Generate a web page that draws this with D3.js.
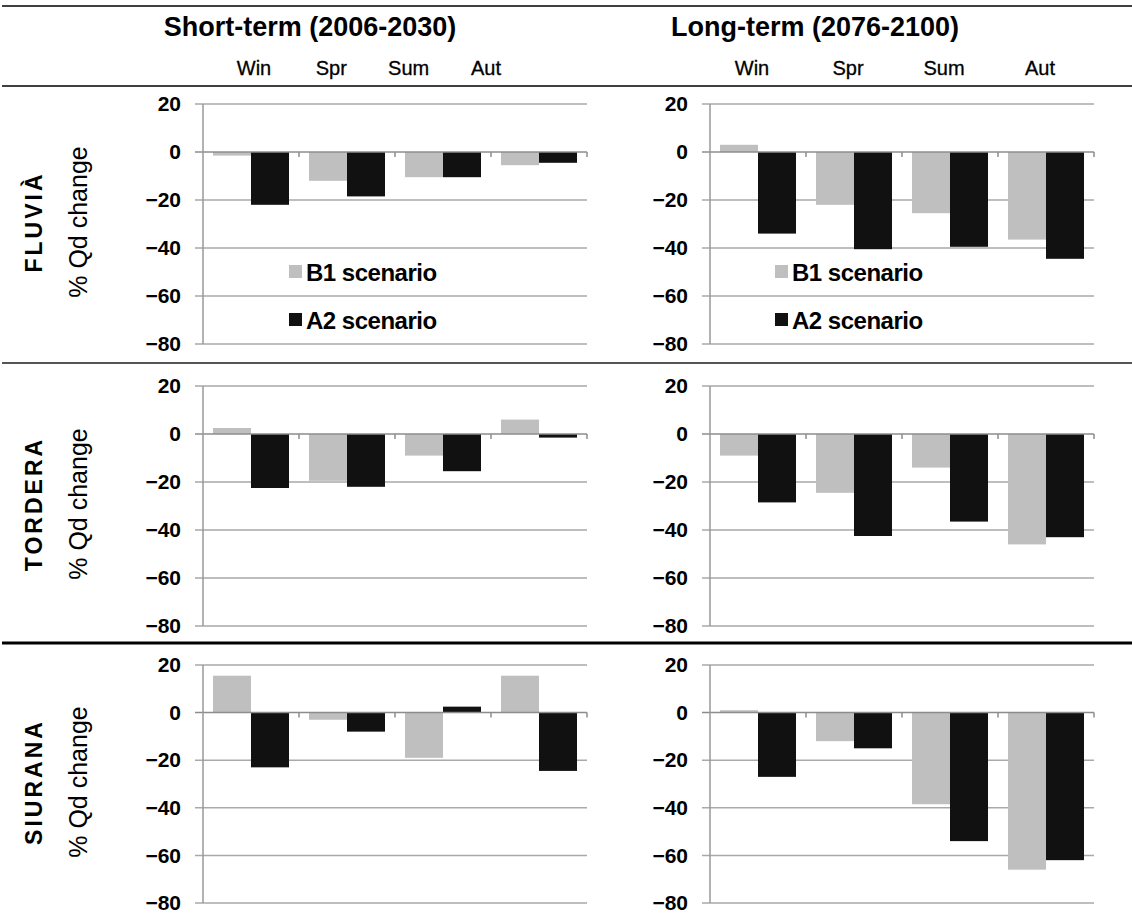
<!DOCTYPE html>
<html>
<head>
<meta charset="utf-8">
<script src="https://cdn.jsdelivr.net/npm/d3@7"></script>
<style>
  body { margin: 0; background: #fff; }
  svg { display: block; font-family: "Liberation Sans", Arial, sans-serif; }
</style>
</head>
<body>
<div id="main"></div>
<script>
// categories
const SEASONS = ["Win", "Spr", "Sum", "Aut"];
const PERIODS = ["Short-term (2006-2030)", "Long-term (2076-2100)"];
const RIVERS = ["FLUVIÀ", "TORDERA", "SIURANA"];
const SCENARIOS = ["B1 scenario", "A2 scenario"];
const Y_TICKS = [20, 0, -20, -40, -60, -80];
const Y_TITLE = "% Qd change";

// % Qd change, one value per season (Win, Spr, Sum, Aut)
const FLUVIA_SHORT_B1 = [-1.5, -12, -10.5, -5.5];
const FLUVIA_SHORT_A2 = [-22, -18.5, -10.5, -4.5];
const FLUVIA_LONG_B1 = [3, -22, -25.5, -36.5];
const FLUVIA_LONG_A2 = [-34, -40.5, -39.5, -44.5];
const TORDERA_SHORT_B1 = [2.5, -19.5, -9, 6];
const TORDERA_SHORT_A2 = [-22.5, -22, -15.5, -1.5];
const TORDERA_LONG_B1 = [-9, -24.5, -14, -46];
const TORDERA_LONG_A2 = [-28.5, -42.5, -36.5, -43];
const SIURANA_SHORT_B1 = [15.5, -3, -19, 15.5];
const SIURANA_SHORT_A2 = [-23, -8, 2.5, -24.5];
const SIURANA_LONG_B1 = [1, -12, -38.5, -66];
const SIURANA_LONG_A2 = [-27, -15, -54, -62];

// [river][period][scenario]
const SERIES = [
    [[FLUVIA_SHORT_B1, FLUVIA_SHORT_A2], [FLUVIA_LONG_B1, FLUVIA_LONG_A2]],
    [[TORDERA_SHORT_B1, TORDERA_SHORT_A2], [TORDERA_LONG_B1, TORDERA_LONG_A2]],
    [[SIURANA_SHORT_B1, SIURANA_SHORT_A2], [SIURANA_LONG_B1, SIURANA_LONG_A2]],
];

const ctx = {
    w: 1132,
    h: 919,
    colX: [[203, 587], [710, 1094]],
    rowY: [[104, 344], [386, 626], [665, 903]],
    titleX: [310, 815],
    seasonLabelRange: [[254, 486], [752, 1040]],
    legendOffset: [86, 65],
    barOuterPad: 0.263,
    colors: ["#bfbfbf", "#111111"],
    grid: "#a9a9a9",
    legendPanel: 0, // legend drawn in first river row
};

function drawHeader(svg) {
    svg.append("line")
        .attr("x1", 2).attr("x2", ctx.w).attr("y1", 6).attr("y2", 6)
        .attr("stroke", "#000").attr("stroke-width", 1.5);
    svg.append("line")
        .attr("x1", 2).attr("x2", ctx.w).attr("y1", 86).attr("y2", 86)
        .attr("stroke", "#000").attr("stroke-width", 1.5);
    PERIODS.forEach(function (p, c) {
        svg.append("text")
            .attr("x", ctx.titleX[c])
            .attr("y", 36)
            .attr("text-anchor", "middle")
            .attr("font-size", 27)
            .attr("font-weight", "bold")
            .text(p);
        let sx = d3.scalePoint().domain(SEASONS).range(ctx.seasonLabelRange[c]);
        svg.append("g").selectAll("text")
            .data(SEASONS)
            .enter()
            .append("text")
            .attr("x", (d) => sx(d))
            .attr("y", 75)
            .attr("text-anchor", "middle")
            .attr("font-size", 20)
            .attr("stroke", "#000")
            .attr("stroke-width", 0.3)
            .text((d) => d);
    });
    // separators between rivers
    svg.append("line")
        .attr("x1", 2).attr("x2", ctx.w).attr("y1", 363).attr("y2", 363)
        .attr("stroke", "#555").attr("stroke-width", 2);
    svg.append("line")
        .attr("x1", 2).attr("x2", ctx.w).attr("y1", 643).attr("y2", 643)
        .attr("stroke", "#000").attr("stroke-width", 3);
}

function drawRowLabels(svg, r) {
    let [yt, yb] = ctx.rowY[r];
    let cy = (yt + yb) / 2 - 2;
    svg.append("text")
        .attr("transform", `translate(42,${cy}) rotate(-90)`)
        .attr("text-anchor", "middle")
        .attr("font-size", 23)
        .attr("font-weight", "bold")
        .attr("letter-spacing", 3)
        .text(RIVERS[r]);
    svg.append("text")
        .attr("transform", `translate(87,${cy}) rotate(-90)`)
        .attr("text-anchor", "middle")
        .attr("font-size", 25)
        .text(Y_TITLE);
}

function drawPanel(svg, r, c) {
    let [x0, x1] = ctx.colX[c];
    let [yt, yb] = ctx.rowY[r];
    let y = d3.scaleLinear()
        .domain([d3.min(Y_TICKS), d3.max(Y_TICKS)])
        .range([yb, yt]);
    let x = d3.scaleBand().domain(SEASONS).range([x0, x1]);
    let xs = d3.scaleBand()
        .domain(SCENARIOS)
        .range([0, x.bandwidth()])
        .paddingOuter(ctx.barOuterPad);
    let g = svg.append("g").classed("panel", true);

    // gridlines
    g.selectAll("line.grid")
        .data(Y_TICKS.filter((d) => d !== 0))
        .enter()
        .append("line")
        .classed("grid", true)
        .attr("x1", x0 - 8).attr("x2", x1)
        .attr("y1", (d) => y(d)).attr("y2", (d) => y(d))
        .attr("stroke", ctx.grid)
        .attr("stroke-width", 1.5);

    // bars
    let data = [];
    SEASONS.forEach(function (s, i) {
        SCENARIOS.forEach(function (sc, k) {
            data.push({ season: s, scenario: sc, k: k, v: SERIES[r][c][k][i] });
        });
    });
    g.selectAll("rect.bar")
        .data(data)
        .enter()
        .append("rect")
        .classed("bar", true)
        .attr("x", (d) => x(d.season) + xs(d.scenario))
        .attr("width", xs.bandwidth())
        .attr("y", (d) => Math.min(y(d.v), y(0)))
        .attr("height", (d) => Math.abs(y(d.v) - y(0)))
        .attr("fill", (d) => ctx.colors[d.k]);

    // zero line + category ticks
    g.append("line")
        .attr("x1", x0 - 8).attr("x2", x1)
        .attr("y1", y(0)).attr("y2", y(0))
        .attr("stroke", "#8c8c8c").attr("stroke-width", 1.5);
    g.selectAll("line.ctick")
        .data(SEASONS)
        .enter()
        .append("line")
        .classed("ctick", true)
        .attr("x1", (d) => x(d) + x.bandwidth())
        .attr("x2", (d) => x(d) + x.bandwidth())
        .attr("y1", y(0)).attr("y2", y(0) + 5)
        .attr("stroke", "#8c8c8c").attr("stroke-width", 1.5);

    // vertical axis
    g.append("line")
        .attr("x1", x0).attr("x2", x0)
        .attr("y1", yt).attr("y2", yb)
        .attr("stroke", "#999").attr("stroke-width", 1.5);
    let axis = g.append("g")
        .attr("transform", `translate(${x0},0)`)
        .call(d3.axisLeft(y).tickValues(Y_TICKS).tickSize(0).tickPadding(22));
    axis.select(".domain").remove();
    axis.selectAll("text")
        .attr("font-family", "Liberation Sans, Arial, sans-serif")
        .attr("font-size", 21)
        .attr("font-weight", "bold")
        .attr("fill", "#000");

    // legend
    if (r === ctx.legendPanel) {
        let lx = x0 + ctx.legendOffset[c];
        let ly = d3.scalePoint().domain(SCENARIOS).range([y(-50), y(-70)]);
        let lg = g.append("g").attr("transform", `translate(${lx},0)`);
        lg.selectAll("rect")
            .data(SCENARIOS)
            .enter()
            .append("rect")
            .attr("x", 0)
            .attr("y", (d) => ly(d) - 7)
            .attr("width", 13)
            .attr("height", 13)
            .attr("fill", (d, i) => ctx.colors[i]);
        lg.selectAll("text")
            .data(SCENARIOS)
            .enter()
            .append("text")
            .attr("x", 17)
            .attr("y", (d) => ly(d) + 9)
            .attr("font-size", 24)
            .attr("font-weight", "bold")
            .attr("letter-spacing", -0.5)
            .text((d) => d);
    }
}

function createViz() {
    let svgEl = d3.select("#main").append("svg")
        .attr("width", ctx.w)
        .attr("height", ctx.h);
    drawHeader(svgEl);
    RIVERS.forEach(function (rv, r) {
        drawRowLabels(svgEl, r);
        PERIODS.forEach(function (p, c) {
            drawPanel(svgEl, r, c);
        });
    });
}

createViz();
</script>
</body>
</html>
